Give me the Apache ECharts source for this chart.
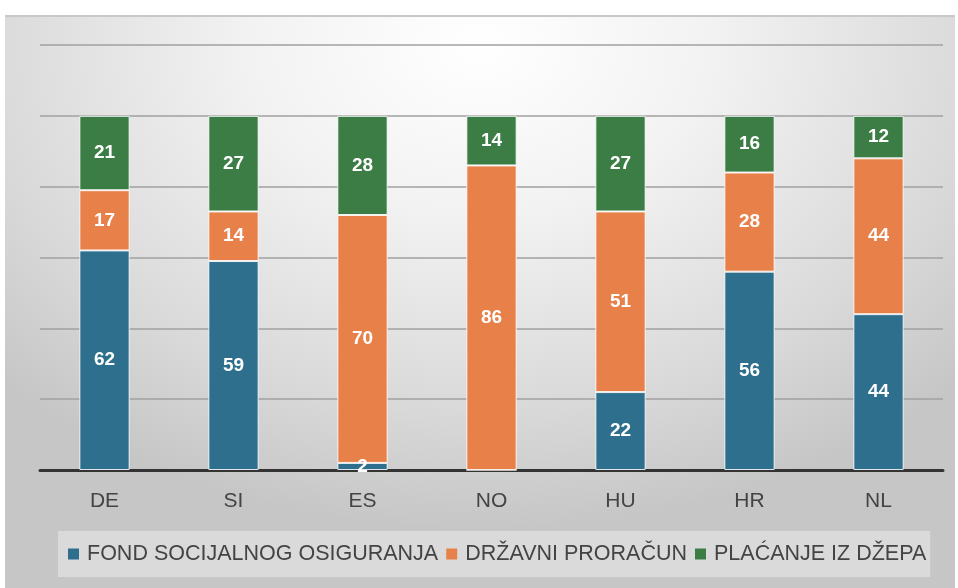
<!DOCTYPE html>
<html><head><meta charset="utf-8">
<script src="https://cdn.jsdelivr.net/npm/echarts@6/dist/echarts.min.js"></script>
<style>
html,body{margin:0;padding:0;width:958px;height:588px;background:#fff;overflow:hidden}
#bg{position:absolute;left:5px;top:15px;width:950px;height:573px;
background:radial-gradient(ellipse 70% 85% at 50% 5%, #ffffff 0%, #f2f2f2 35%, #d9d9d9 75%, #c6c6c6 100%);
border-top:2px solid #c8c8c8;box-sizing:border-box}
#c{position:absolute;left:0;top:0;width:958px;height:588px}
</style></head>
<body><div id="bg"></div><div id="c"></div>
<script>
const categories = ['DE','SI','ES','NO','HU','HR','NL'];
const fondSocijalnog = [62,59,2,0,22,56,44];
const drzavniProracun = [17,14,70,86,51,28,44];
const placanjeIzDzepa = [21,27,28,14,27,16,12];
const seriesNames = ['FOND SOCIJALNOG OSIGURANJA','DRŽAVNI PRORAČUN','PLAĆANJE IZ DŽEPA'];
const colors = ['#2e6f8e','#e8804a','#3b7d45'];

const FONT = 'Liberation Sans, Arial, sans-serif';
const chart = echarts.init(document.getElementById('c'));
const mk = (name, data, color) => ({
  name, type:'bar', stack:'t', data, barWidth:'39%',
  itemStyle:{color, borderColor:'rgba(255,255,255,0.85)', borderWidth:1},
  label:{show:true, position:'inside', color:'#fff', fontWeight:'bold', fontSize:19,
    fontFamily:FONT,
    formatter:p=>p.value===0?'':p.value}
});
chart.setOption({
  backgroundColor:'transparent',
  animation:false,
  grid:{left:40,right:15,top:45,bottom:118},
  legend:{
    bottom:11, left:58, itemWidth:11, itemHeight:11, itemGap:8,
    icon:'rect', padding:[12,4,12,10],
    backgroundColor:'rgba(255,255,255,0.35)',
    itemStyle:{borderWidth:0},
    textStyle:{fontSize:21.5, color:'#444', fontFamily:FONT, padding:[0,0,0,3]},
    data:seriesNames
  },
  xAxis:{type:'category', data:categories,
    axisLine:{lineStyle:{color:'#333',width:3}},
    axisTick:{show:false},
    axisLabel:{fontSize:21,color:'#444',margin:21,fontFamily:FONT}},
  yAxis:{type:'value', min:0, max:120, interval:20,
    axisLabel:{show:false}, axisLine:{show:false}, axisTick:{show:false},
    splitLine:{lineStyle:{color:'#a0a0a0',width:1.5}}},
  series:[
    mk(seriesNames[0], fondSocijalnog, colors[0]),
    mk(seriesNames[1], drzavniProracun, colors[1]),
    mk(seriesNames[2], placanjeIzDzepa, colors[2])
  ]
});
</script></body></html>
